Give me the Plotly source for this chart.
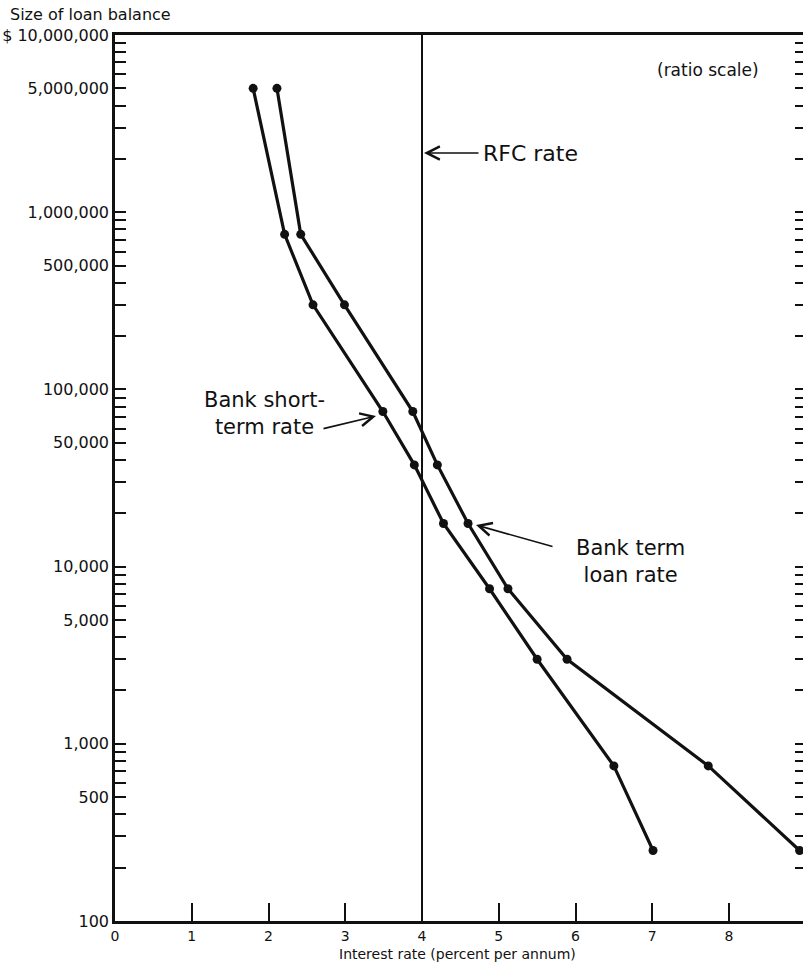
import plotly.graph_objects as go

# ---------------- data ----------------
loan_size = [5_000_000, 750_000, 300_000, 75_000, 37_500, 17_500, 7_500, 3_000, 750, 250]
short_term_rate = [1.80, 2.21, 2.58, 3.49, 3.90, 4.28, 4.88, 5.50, 6.50, 7.01]
term_loan_rate = [2.11, 2.42, 2.99, 3.88, 4.20, 4.60, 5.12, 5.89, 7.73, 8.92]
rfc_rate = 4

y_tick_vals = [100, 500, 1_000, 5_000, 10_000, 50_000, 100_000, 500_000, 1_000_000, 5_000_000, 10_000_000]
y_tick_text = ["100", "500", "1,000", "5,000", "10,000", "50,000", "100,000",
               "500,000", "1,000,000", "5,000,000", "$ 10,000,000"]
x_tick_vals = [0, 1, 2, 3, 4, 5, 6, 7, 8, 9]
x_tick_text = ["0", "1", "2", "3", "4", "5", "6", "7", "8", "9"]

minor_vals = [m * 10 ** e for e in range(2, 7) for m in range(2, 10)]

FONT = "DejaVu Sans"
BLACK = "#111111"

fig = go.Figure()

# RFC rate vertical line
fig.add_trace(go.Scatter(x=[rfc_rate, rfc_rate], y=[100, 10_000_000], mode="lines",
                         line=dict(color=BLACK, width=2), hoverinfo="skip", showlegend=False))

for rates in (short_term_rate, term_loan_rate):
    fig.add_trace(go.Scatter(x=rates, y=loan_size, mode="lines+markers",
                             line=dict(color=BLACK, width=3.2),
                             marker=dict(color=BLACK, size=9),
                             cliponaxis=False, showlegend=False))

# invisible trace on mirrored right axis
fig.add_trace(go.Scatter(x=[rfc_rate], y=[1000], yaxis="y2", mode="markers",
                         marker=dict(opacity=0), hoverinfo="skip", showlegend=False))

L, R, T, B = 115, 0, 35, 41
W, H = 803, 962
x_max = (W - L - R) / 76.75


def px2x(px):
    return (px - L) / 76.75


def py2y(py):
    return 7 - (py - T) / 177.2


fig.update_layout(
    width=W, height=H,
    margin=dict(l=L, r=R, t=T, b=B, autoexpand=False),
    plot_bgcolor="white", paper_bgcolor="white",
    font=dict(family=FONT, color=BLACK, size=14),
    xaxis=dict(range=[0, x_max], tickmode="array", tickvals=x_tick_vals, ticktext=x_tick_text,
               ticks="inside", ticklen=18, tickwidth=2, tickcolor=BLACK,
               showline=True, linewidth=2.5, linecolor=BLACK, mirror=True,
               showgrid=False, zeroline=False, tickfont=dict(size=14, family=FONT)),
    yaxis=dict(type="log", range=[2, 7], tickmode="array", tickvals=y_tick_vals, ticktext=y_tick_text,
               ticks="inside", ticklen=11, tickwidth=2, tickcolor=BLACK,
               minor=dict(tickmode="array", tickvals=minor_vals, ticks="inside", ticklen=11,
                          tickwidth=2, tickcolor=BLACK, showgrid=False),
               showline=True, linewidth=2.5, linecolor=BLACK,
               showgrid=False, zeroline=False, tickfont=dict(size=16, family=FONT)),
    yaxis2=dict(type="log", range=[2, 7], overlaying="y", side="right",
                tickmode="array", tickvals=y_tick_vals, showticklabels=False,
                ticks="inside", ticklen=8, tickwidth=2, tickcolor=BLACK,
                minor=dict(tickmode="array", tickvals=minor_vals, ticks="inside", ticklen=8,
                           tickwidth=2, tickcolor=BLACK, showgrid=False),
                showline=False, showgrid=False, zeroline=False),
)

ann = []
# titles
ann.append(dict(text="Size of loan balance", xref="paper", yref="paper",
                x=(8 - L) / (W - L), y=(H - B - 14) / (H - T - B), xanchor="left", yanchor="middle",
                showarrow=False, font=dict(size=16, family=FONT)))
ann.append(dict(text="Interest rate (percent per annum)", xref="paper", yref="paper",
                x=(457 - L) / (W - L), y=(H - B - 954) / (H - T - B), xanchor="center", yanchor="middle",
                showarrow=False, font=dict(size=14, family=FONT)))
ann.append(dict(text="(ratio scale)", x=px2x(655), y=py2y(70), xanchor="left", yanchor="middle",
                showarrow=False, font=dict(size=17, family=FONT)))

# RFC rate
ann.append(dict(text="", x=px2x(424), y=py2y(153), ax=56, ay=0, showarrow=True,
                arrowhead=5, arrowsize=1.6, arrowwidth=1.6, arrowcolor=BLACK))
ann.append(dict(text="RFC rate", x=px2x(481), y=py2y(153), xanchor="left", yanchor="middle",
                showarrow=False, font=dict(size=22, family=FONT)))

# Bank short-term rate
ann.append(dict(text="", x=px2x(376), y=py2y(416), ax=-54, ay=13, showarrow=True,
                arrowhead=5, arrowsize=1.6, arrowwidth=1.6, arrowcolor=BLACK))
ann.append(dict(text="Bank short-<br>term rate", x=px2x(264), y=py2y(413), xanchor="center",
                yanchor="middle", align="center", showarrow=False, font=dict(size=21, family=FONT)))

# Bank term loan rate
ann.append(dict(text="", x=px2x(476), y=py2y(525), ax=78, ay=22, showarrow=True,
                arrowhead=5, arrowsize=1.6, arrowwidth=1.6, arrowcolor=BLACK))
ann.append(dict(text="Bank term<br>loan rate", x=px2x(630), y=py2y(561), xanchor="center",
                yanchor="middle", align="center", showarrow=False, font=dict(size=21, family=FONT)))

fig.update_layout(annotations=ann)

fig.write_html("out.html", config={"displayModeBar": False},
               post_script="document.body.style.margin='0';document.body.style.overflow='hidden';")
